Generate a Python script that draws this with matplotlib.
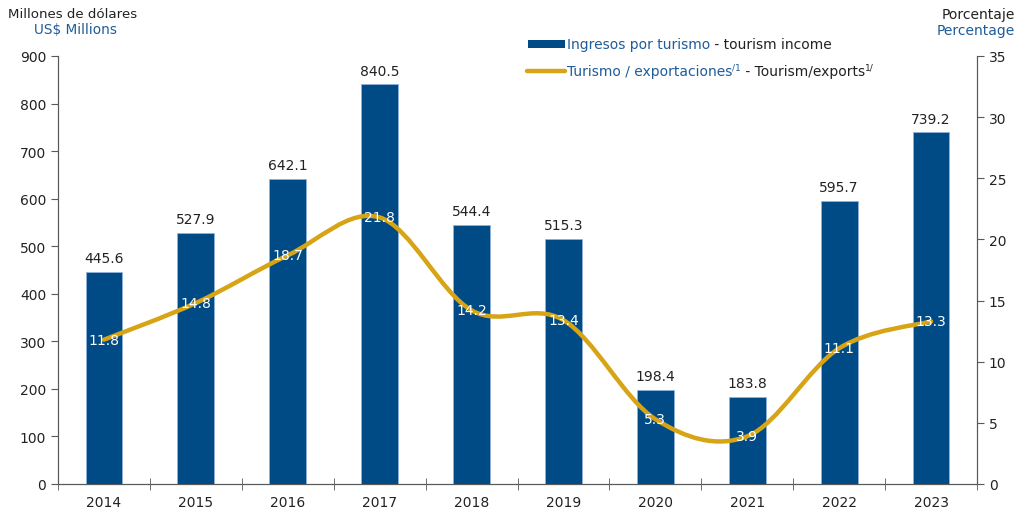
import matplotlib
matplotlib.use("Agg")
import matplotlib.pyplot as plt
import numpy as np
from matplotlib.path import Path
from matplotlib.patches import PathPatch, Rectangle
from matplotlib.lines import Line2D

years = ["2014", "2015", "2016", "2017", "2018", "2019", "2020", "2021", "2022", "2023"]
income = [445.6, 527.9, 642.1, 840.5, 544.4, 515.3, 198.4, 183.8, 595.7, 739.2]
share = [11.8, 14.8, 18.7, 21.8, 14.2, 13.4, 5.3, 3.9, 11.1, 13.3]

BLUE = "#004A86"
GOLD = "#D6A415"
TXT_BLUE = "#1F5C99"
AXIS = "#595959"
W, H = 1017, 510

plt.rcParams["font.family"] = ["DejaVu Sans"]
fig = plt.figure(figsize=(W / 100, H / 100), dpi=100)
ax = fig.add_axes([58 / W, 1 - 485 / H, (977 - 58) / W, (485 - 57) / H])
ax2 = ax.twinx()

x = np.arange(len(years))
bars = ax.bar(x, income, width=0.40, color=BLUE, edgecolor="#8FB3D9", linewidth=0.6, zorder=2)
for xi, v in zip(x, income):
    ax.text(xi, v + 14, f"{v:.1f}", ha="center", va="bottom", fontsize=10, color="#222222")

ax.set_xlim(-0.5, len(years) - 0.5)
ax.set_ylim(0, 900)
ax.set_yticks(range(0, 901, 100))
ax.set_xticks(x)
ax.set_xticklabels(years)
ax.set_xticks(np.arange(-0.5, len(years), 1.0), minor=True)
ax.tick_params(axis="x", which="major", length=0, labelsize=10, pad=8, colors="#222222")
ax.tick_params(axis="x", which="minor", direction="inout", length=8, color=AXIS)
ax.tick_params(axis="y", direction="out", length=5, labelsize=10, colors="#222222", color=AXIS)
for s in ["top"]:
    ax.spines[s].set_visible(False)
    ax2.spines[s].set_visible(False)
for s in ["left", "bottom", "right"]:
    ax.spines[s].set_color(AXIS)
    ax2.spines[s].set_color(AXIS)

ax2.set_ylim(0, 35)
ax2.set_yticks(range(0, 36, 5))
ax2.tick_params(axis="y", direction="out", length=5, labelsize=10, colors="#222222", color=AXIS)

# smooth line (Catmull-Rom style bezier, like Excel smoothed lines)
pts = list(zip(x.astype(float), share))
verts = [pts[0]]
codes = [Path.MOVETO]
n = len(pts)
for i in range(n - 1):
    p0 = pts[i - 1] if i > 0 else pts[i]
    p1 = pts[i]
    p2 = pts[i + 1]
    p3 = pts[i + 2] if i + 2 < n else pts[i + 1]
    c1 = (p1[0] + (p2[0] - p0[0]) / 6, p1[1] + (p2[1] - p0[1]) / 6)
    c2 = (p2[0] - (p3[0] - p1[0]) / 6, p2[1] - (p3[1] - p1[1]) / 6)
    verts += [c1, c2, p2]
    codes += [Path.CURVE4] * 3
ax2.add_patch(PathPatch(Path(verts, codes), facecolor="none", edgecolor=GOLD,
                        linewidth=3.2, capstyle="round", zorder=3))
for xi, v in zip(x, share):
    ax2.text(xi, v, f"{v:.1f}", ha="center", va="center", fontsize=10, color="white", zorder=4)

# axis titles
fig.text(8 / W, 1 - 15 / H, "Millones de dólares", ha="left", va="center", fontsize=9.6, color="#222222")
fig.text(76 / W, 1 - 30 / H, "US$ Millions", ha="center", va="center", fontsize=9.8, color=TXT_BLUE)
fig.text(1015 / W, 1 - 15 / H, "Porcentaje", ha="right", va="center", fontsize=10, color="#222222")
fig.text(1015 / W, 1 - 31 / H, "Percentage", ha="right", va="center", fontsize=10, color=TXT_BLUE)

# legend
fig.add_artist(Rectangle((528 / W, 1 - 49 / H), 37 / W, 8 / H, transform=fig.transFigure,
                         facecolor=BLUE, edgecolor="none"))
fig.add_artist(Line2D([527 / W, 565 / W], [1 - 72 / H, 1 - 72 / H], transform=fig.transFigure,
                      color=GOLD, linewidth=3.2, solid_capstyle="round"))

renderer = fig.canvas.get_renderer()


def text_run(xpix, ypix, pieces):
    for s, color, size, dy in pieces:
        t = fig.text(xpix / W, 1 - (ypix - dy) / H, s, ha="left", va="center",
                     fontsize=size, color=color)
        bb = t.get_window_extent(renderer)
        xpix = bb.x1


text_run(567, 45, [("Ingresos por turismo", TXT_BLUE, 10, 0),
                   (" - tourism income", "#222222", 10, 0)])
text_run(567, 72, [("Turismo / exportaciones", TXT_BLUE, 10, 0),
                   ("/1", TXT_BLUE, 6.5, 4),
                   (" - Tourism/exports", "#222222", 10, 0),
                   ("1/", "#222222", 6.5, 4)])

fig.savefig("out.png", dpi=100)
